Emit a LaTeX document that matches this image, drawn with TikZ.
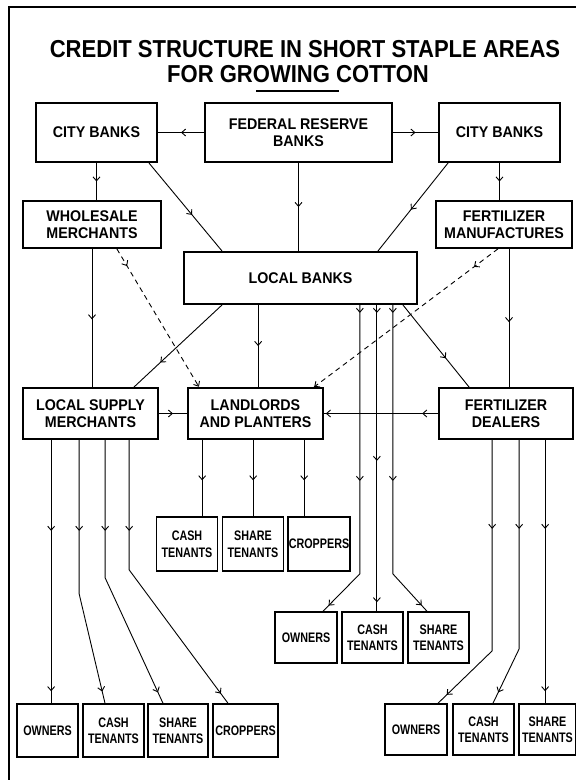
\documentclass[tikz,border=0pt]{standalone}
\usepackage{fontspec}
\newfontfamily\titlefont{Liberation Sans}[FakeStretch=0.9]
\newfontfamily\boxfont{Liberation Sans}[FakeStretch=0.92]
\newfontfamily\cellfont{Liberation Sans}[FakeStretch=0.78]
\usetikzlibrary{arrows.meta,decorations.markings}

\begin{document}
\begin{tikzpicture}[x=1pt, y=-1pt,
    box/.style={draw, line width=1.7pt, inner sep=0pt, align=center,
      font=\boxfont\bfseries\fontsize{15.5}{17}\selectfont},
    cell/.style={draw, line width=1.5pt, inner sep=0pt, align=center,
      minimum width=61pt, minimum height=53pt,
      font=\cellfont\bfseries\fontsize{13.8}{16.5}\selectfont},
    conn/.style={line width=0.9pt},
    hint/.style={dash pattern=on 5pt off 4pt},
    arr/.style={postaction={decorate, decoration={markings,
      mark=at position #1 with {\arrow{Straight Barb[length=4pt,width=7pt]}}}}}]
  \useasboundingbox (0,0) rectangle (576,780);

  \draw[line width=2.4pt] (9,780) -- (9,7) -- (576,7);

  \node[anchor=base, font=\titlefont\bfseries\fontsize{24.5}{28}\selectfont]
    (title) at (305,57) {CREDIT STRUCTURE IN SHORT STAPLE AREAS};
  \node[anchor=base, font=\titlefont\bfseries\fontsize{24.5}{28}\selectfont]
    (subtitle) at (298,82) {FOR GROWING COTTON};
  \draw[line width=1.3pt] (256,91) -- (339,91);

  % banks and merchants
  \node[box, minimum width=121pt, minimum height=59pt] (cityL) at (96.5,132.5) {CITY BANKS};
  \node[box, minimum width=187pt, minimum height=59pt] (fed) at (298.5,132.5) {FEDERAL RESERVE\\BANKS};
  \node[box, minimum width=121pt, minimum height=59pt] (cityR) at (499.5,132.5) {CITY BANKS};
  \node[box, minimum width=138pt, minimum height=47pt] (whole) at (92,224.5) {WHOLESALE\\MERCHANTS};
  \node[box, minimum width=136pt, minimum height=47pt] (fertM) at (504,224.5) {FERTILIZER\\MANUFACTURES};
  \node[box, minimum width=233pt, minimum height=52pt] (local) at (300.5,278) {LOCAL BANKS};
  \node[box, minimum width=135pt, minimum height=51pt] (supply) at (90.5,413.5) {LOCAL SUPPLY\\MERCHANTS};
  \node[box, minimum width=135pt, minimum height=51pt] (land) at (255.5,413.5) {LANDLORDS\\AND PLANTERS};
  \node[box, minimum width=134pt, minimum height=51pt] (fertD) at (506,413.5) {FERTILIZER\\DEALERS};

  % farmers
  \node[cell, minimum height=54pt] (cashA) at (187,544) {CASH\\TENANTS};
  \node[cell, minimum height=54pt] (shareA) at (253,544) {SHARE\\TENANTS};
  \node[cell, minimum height=54pt, minimum width=62pt] (cropA) at (319,544) {CROPPERS};

  \node[cell, minimum height=51pt, minimum width=62pt] (ownB) at (306,637.5) {OWNERS};
  \node[cell, minimum height=51pt] (cashB) at (372.5,637.5) {CASH\\TENANTS};
  \node[cell, minimum height=51pt] (shareB) at (438.5,637.5) {SHARE\\TENANTS};

  \node[cell] (ownC) at (47.5,730.5) {OWNERS};
  \node[cell] (cashC) at (113.5,730.5) {CASH\\TENANTS};
  \node[cell, minimum width=60pt] (shareC) at (178,730.5) {SHARE\\TENANTS};
  \node[cell, minimum width=65pt] (cropC) at (245.5,730.5) {CROPPERS};

  \node[cell, minimum height=51pt, minimum width=62pt] (ownD) at (416,729.5) {OWNERS};
  \node[cell, minimum height=51pt] (cashD) at (483.5,729.5) {CASH\\TENANTS};
  \node[cell, minimum height=51pt, minimum width=57pt] (shareD) at (547.5,729.5) {SHARE\\TENANTS};

  % top of the structure
  \draw[conn, arr=0.5] (fed.west) -- (cityL.east);
  \draw[conn, arr=0.5] (fed.east) -- (cityR.west);
  \draw[conn, arr=0.5] (cityL.south) -- (cityL.south |- whole.north);
  \draw[conn, arr=0.59] ([xshift=-9pt]cityL.south east) -- ([xshift=39pt]local.north west);
  \draw[conn, arr=0.5] (fed.south) -- (fed.south |- local.north);
  \draw[conn, arr=0.53] ([xshift=10pt]cityR.south west) -- ([xshift=-40pt]local.north east);
  \draw[conn, arr=0.5] (cityR.south) -- (cityR.south |- fertM.north);

  % merchants and dealers
  \draw[conn, arr=0.51] (whole.south) -- (whole.south |- supply.north);
  \draw[conn, hint, arr=20pt, arr=-0.5pt] ([xshift=-45pt]whole.south east) -- ([xshift=12pt]land.north west);
  \draw[conn, hint, arr=30pt, arr=-0.5pt] ([xshift=-6pt]fertM.south) -- ([xshift=-10pt]land.north east);
  \draw[conn, arr=0.7] ([xshift=39pt]local.south west) -- ([xshift=-25pt]supply.north east);
  \draw[conn, arr=0.5] ([xshift=75pt]local.south west) coordinate (lb) -- (lb |- land.north);
  \draw[conn, arr=0.65] ([xshift=-15pt]local.south east) -- ([xshift=31pt]fertD.north west);
  \draw[conn, arr=0.53] ([xshift=5pt]fertM.south) coordinate (fm) -- (fm |- fertD.north);
  \draw[conn, arr=0.5] (supply.east) -- (land.west);
  \draw[conn, arr=0.14, arr=-2pt] (fertD.west) -- (land.east);

  % landlords to tenants
  \draw[conn, arr=0.53] ([xshift=15pt]land.south west) coordinate (a1) -- (a1 |- cashA.north);
  \draw[conn, arr=0.53] ([xshift=66pt]land.south west) coordinate (a2) -- (a2 |- shareA.north);
  \draw[conn, arr=0.53] ([xshift=117pt]land.south west) coordinate (a3) -- (a3 |- cropA.north);

  % local banks to farmers
  \draw[conn, arr=8pt, arr=176pt, arr=-8pt] ([xshift=-58pt]local.south east) -- ++(0,269) -- ([xshift=17pt]ownB.north);
  \draw[conn, arr=8pt, arr=156pt, arr=-9pt] ([xshift=-41pt]local.south east) coordinate (b2) -- (b2 |- cashB.north);
  \draw[conn, arr=8pt, arr=176pt, arr=-8pt] ([xshift=-25pt]local.south east) -- ++(0,269) -- ([xshift=-11.5pt]shareB.north);

  % supply merchants to farmers
  \draw[conn, arr=91pt, arr=-12pt] ([xshift=29pt]supply.south west) coordinate (c1) -- (c1 |- ownC.north);
  \draw[conn, arr=91pt, arr=-12pt] ([xshift=57pt]supply.south west) -- ++(0,154) -- ([xshift=-8.5pt]cashC.north);
  \draw[conn, arr=91pt, arr=-12pt] ([xshift=83pt]supply.south west) -- ++(0,138) -- ([xshift=-15pt]shareC.north);
  \draw[conn, arr=91pt, arr=-12pt] ([xshift=107pt]supply.south west) -- ++(0,130) -- ([xshift=-17.5pt]cropC.north);

  % dealers to farmers
  \draw[conn, arr=89pt, arr=-12pt] ([xshift=54pt]fertD.south west) -- ++(0,211) -- ([xshift=22pt]ownD.north);
  \draw[conn, arr=89pt, arr=-12pt] ([xshift=81pt]fertD.south west) -- ++(0,209) -- ([xshift=9.5pt]cashD.north);
  \draw[conn, arr=89pt, arr=-12pt] ([xshift=107pt]fertD.south west) coordinate (d3) -- (d3 |- shareD.north);
\end{tikzpicture}
\end{document}
